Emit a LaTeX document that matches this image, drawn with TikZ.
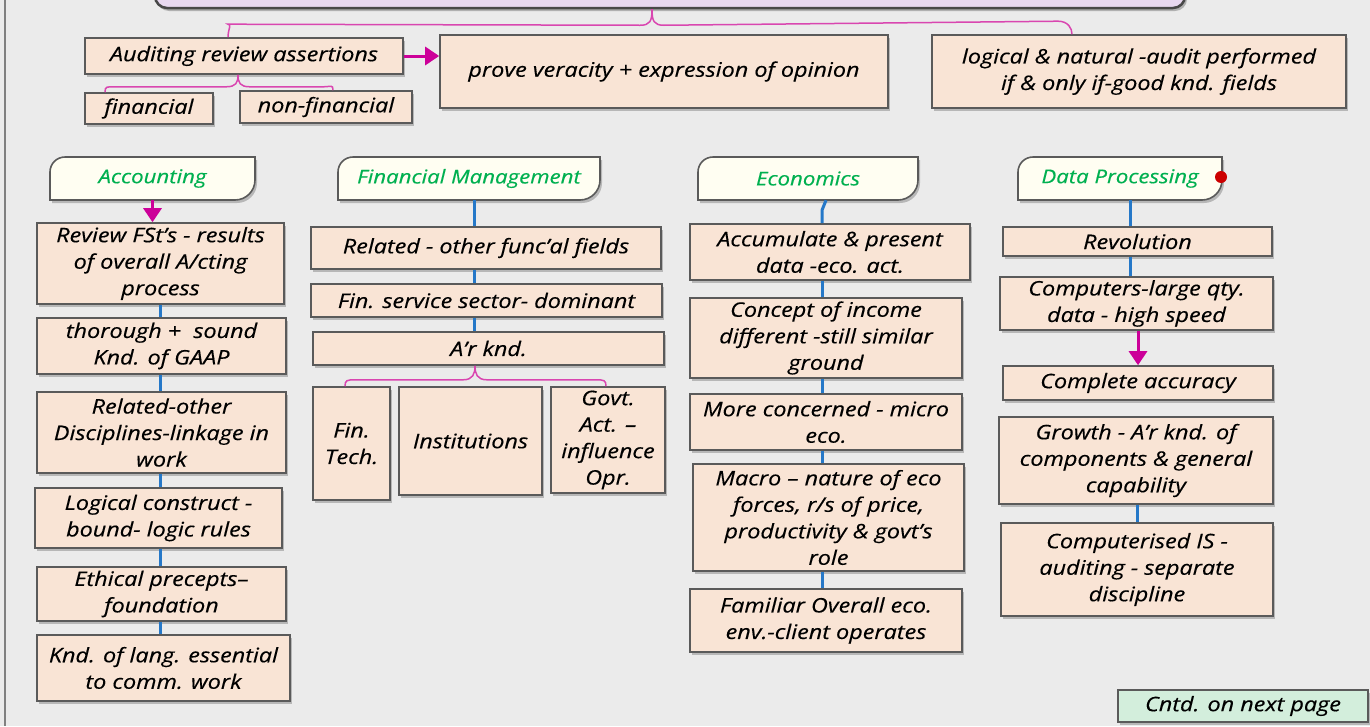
\documentclass[tikz,border=0pt]{standalone}
\usepackage{fontspec}
\setmainfont{Open Sans}
\newfontfamily\handfont[FakeStretch=1.17,FakeBold=0.35]{Open Sans}
\usetikzlibrary{shadows,arrows.meta}
\definecolor{bgc}{HTML}{EBEBEB}
\definecolor{peach}{HTML}{F9E4D5}
\definecolor{edge}{HTML}{5A5A5A}
\definecolor{cream}{HTML}{FFFEF2}
\definecolor{hgreen}{HTML}{00B050}
\definecolor{cblue}{HTML}{2578C8}
\definecolor{bpink}{HTML}{D946B0}
\definecolor{amag}{HTML}{CC0099}
\definecolor{lav}{HTML}{E8D8F0}
\definecolor{mint}{HTML}{D3EEDC}
\newcommand\bodyfont{\handfont\itshape\fontsize{20}{26.5}\selectfont}
\newcommand\headfont{\handfont\itshape\fontsize{19}{24}\selectfont}
\newcommand\bx[6]{\node[box, minimum width={(#4-#2)*1pt}, minimum height={(#5-#3)*1pt}] (#1) at ({(#2+#4)/2},{(#3+#5)/2}) {#6};}
\newcommand\tagbox[6]{%
  \draw[tagstyle] (#2,#5) -- (#2,#3+15) arc[start angle=180,end angle=90,radius=15pt] -- (#4,#3) -- (#4,#5-20) arc[start angle=0,end angle=-90,radius=20pt] -- cycle;
  \node[tagtext, minimum width={(#4-#2)*1pt}, minimum height={(#5-#3)*1pt}] (#1) at ({(#2+#4)/2},{(#3+#5)/2}) {#6};}
\begin{document}
\begin{tikzpicture}[x=1pt,y=-1pt,
  box/.style={draw=edge, line width=1.6pt, fill=peach, align=center, inner sep=0pt, font=\bodyfont,
    drop shadow={shadow xshift=2pt, shadow yshift=-3pt, opacity=0.22, fill=black}},
  tagstyle/.style={draw=edge, line width=1.6pt, fill=cream,
    drop shadow={shadow xshift=2pt, shadow yshift=-3pt, opacity=0.22, fill=black}},
  tagtext/.style={inner sep=0pt, text=hgreen, font=\headfont},
  blueline/.style={draw=cblue, line width=3pt},
  brace/.style={draw=bpink, line width=1.5pt},
  magarrow/.style={draw=amag, fill=amag, line width=3pt, -{Triangle[length=14pt,width=18pt]}}]
\fill[bgc] (0,0) rectangle (1370,726);
\useasboundingbox (0,0) rectangle (1370,726);
\draw[gray, line width=1.5pt] (5,0) -- (5,726);
% top box
\node[draw=edge!80!black, line width=2.5pt, fill=lav, rounded corners=12pt, minimum width=1030pt, minimum height=60pt,
  drop shadow={shadow xshift=2pt, shadow yshift=-3pt, opacity=0.25, fill=black}] (top) at (670,-22) {};
% first row
\bx{aud}{85}{38}{403}{74}{Auditing review assertions}
\bx{prove}{440}{35}{888}{108}{prove veracity + expression of opinion}
\bx{logic}{932}{35}{1346}{108}{logical \& natural -audit performed\\if \& only if-good knd. fields}
\bx{fin}{85}{93}{213}{124}{financial}
\bx{nonfin}{240}{91}{412}{123}{non-financial}
% braces top
\draw[brace] ([xshift=-18pt]top.south) .. controls ([xshift=-18pt,yshift=-12pt]top.south) and ([xshift=-20pt,yshift=-16pt]top.south) .. ([xshift=-30pt,yshift=-16pt]top.south) -- ([xshift=-6pt,yshift=13pt]aud.north west -| 234,0) .. controls ([xshift=-2pt,yshift=13pt]aud.north west -| 234,0) and ([yshift=8pt]aud.north west -| 228,0) .. (aud.north west -| 228,0);
\draw[brace] ([xshift=-18pt]top.south) .. controls ([xshift=-18pt,yshift=-12pt]top.south) and ([xshift=-16pt,yshift=-16pt]top.south) .. ([xshift=-6pt,yshift=-16pt]top.south) -- ([yshift=13pt]logic.north -| 1058,0) .. controls ([yshift=13pt]logic.north -| 1068,0) and ([yshift=6pt]logic.north -| 1072,0) .. (logic.north -| 1072,0);
% brace under auditing
\draw[brace] (aud.south -| 238,0) .. controls ([yshift=-8pt]aud.south -| 238,0) and ([yshift=-12pt]aud.south -| 236,0) .. ([yshift=-12pt]aud.south -| 226,0) -- ([yshift=-12pt]aud.south -| 115,0) .. controls ([yshift=-12pt]aud.south -| 107,0) and ([yshift=6pt]fin.north -| 105,0) .. (fin.north -| 105,0);
\draw[brace] (aud.south -| 238,0) .. controls ([yshift=-8pt]aud.south -| 238,0) and ([yshift=-12pt]aud.south -| 240,0) .. ([yshift=-12pt]aud.south -| 250,0) -- ([yshift=-12pt]aud.south -| 323,0) .. controls ([yshift=-12pt]aud.south -| 331,0) and ([yshift=6pt]nonfin.north -| 333,0) .. (nonfin.north -| 333,0);
\draw[magarrow] (aud.east) -- (prove.west |- aud.east);
% headers
\tagbox{acc}{50}{157}{255}{200}{Accounting}
\tagbox{fm}{338}{157}{600}{200}{Financial Management}
\tagbox{eco}{698}{157}{918}{200}{Economics}
\tagbox{dp}{1018}{157}{1222}{200}{Data Processing}
\fill[red!80!black] (1221,177) circle (6pt);
% accounting column
\bx{a1}{37}{223}{284}{304}{Review FSt’s - results\\of overall A/cting\\process}
\bx{a2}{37}{318}{286}{374}{thorough + \ sound\\Knd. of GAAP}
\bx{a3}{37}{392}{286}{473}{Related-other\\Disciplines-linkage in\\work}
\bx{a4}{35}{488}{282}{548}{Logical construct -\\bound- logic rules}
\bx{a5}{37}{567}{286}{621}{Ethical precepts–\\foundation}
\bx{a6}{37}{635}{290}{701}{Knd. of lang. essential\\to comm. work}
\draw[magarrow] (acc.south) -- (acc.south |- a1.north);
\foreach \p/\q in {a1/a2,a2/a3,a3/a4,a4/a5,a5/a6}{\draw[blueline] (160,0 |- \p.south) -- (160,0 |- \q.north);}
% financial management
\bx{f1}{311}{227}{661}{269}{Related - other func’al fields}
\bx{f2}{311}{284}{662}{317}{Fin. service sector- dominant}
\bx{f3}{313}{332}{664}{365}{A’r knd.}
\bx{f4}{313}{387}{390}{500}{Fin.\\Tech.}
\bx{f5}{399}{387}{542}{495}{Institutions}
\bx{f6}{551}{387}{665}{493}{Govt.\\Act. –\\influence\\Opr.}
\draw[blueline] (474,0 |- fm.south) -- (474,0 |- f1.north);
\draw[blueline] (474,0 |- f1.south) -- (474,0 |- f2.north);
\draw[blueline] (474,0 |- f2.south) -- (474,0 |- f3.north);
\draw[brace] (475,0 |- f3.south) .. controls ([yshift=-8pt]475,0 |- f3.south) and ([yshift=-14pt]473,0 |- f3.south) .. ([yshift=-14pt]463,0 |- f3.south) -- ([yshift=-14pt]355,0 |- f3.south) .. controls ([yshift=-14pt]347,0 |- f3.south) and ([yshift=6pt]345,0 |- f4.north) .. (345,0 |- f4.north);
\draw[brace] (475,0 |- f3.south) .. controls ([yshift=-8pt]475,0 |- f3.south) and ([yshift=-14pt]477,0 |- f3.south) .. ([yshift=-14pt]487,0 |- f3.south) -- ([yshift=-14pt]596,0 |- f3.south) .. controls ([yshift=-14pt]604,0 |- f3.south) and ([yshift=6pt]606,0 |- f6.north) .. (606,0 |- f6.north);
% economics
\bx{e1}{690}{224}{970}{280}{Accumulate \& present\\data -eco. act.}
\bx{e2}{690}{298}{962}{378}{Concept of income\\different -still similar\\ground}
\bx{e3}{690}{394}{962}{450}{More concerned - micro\\eco.}
\bx{e4}{693}{464}{964}{571}{Macro – nature of eco\\forces, r/s of price,\\productivity \& govt’s\\role}
\bx{e5}{690}{589}{962}{652}{Familiar Overall eco.\\env.-client operates}
\draw[blueline] (826,0 |- eco.south) -- ([yshift=-10pt]822,0 |- eco.south) -- (822,0 |- e1.north);
\foreach \p/\q in {e1/e2,e2/e3,e3/e4,e4/e5}{\draw[blueline] (822,0 |- \p.south) -- (822,0 |- \q.north);}
% data processing
\bx{d1}{1003}{227}{1272}{256}{Revolution}
\bx{d2}{1000}{277}{1273}{330}{Computers-large qty.\\data - high speed}
\bx{d3}{1003}{366}{1273}{400}{Complete accuracy}
\bx{d4}{999}{417}{1273}{504}{Growth - A’r knd. of\\components \& general\\capability}
\bx{d5}{1001}{523}{1273}{616}{Computerised IS -\\auditing - separate\\discipline}
\draw[blueline] (1130,0 |- dp.south) -- (1130,0 |- d1.north);
\draw[blueline] (1130,0 |- d1.south) -- (1130,0 |- d2.north);
\draw[magarrow] (1138,0 |- d2.south) -- (1138,0 |- d3.north);
\draw[blueline] (1137,0 |- d4.south) -- (1137,0 |- d5.north);
% continued
\node[box, fill=mint, minimum width=250pt, minimum height=32pt] (cntd) at (1243,706) {Cntd. on next page};
\end{tikzpicture}
\end{document}
